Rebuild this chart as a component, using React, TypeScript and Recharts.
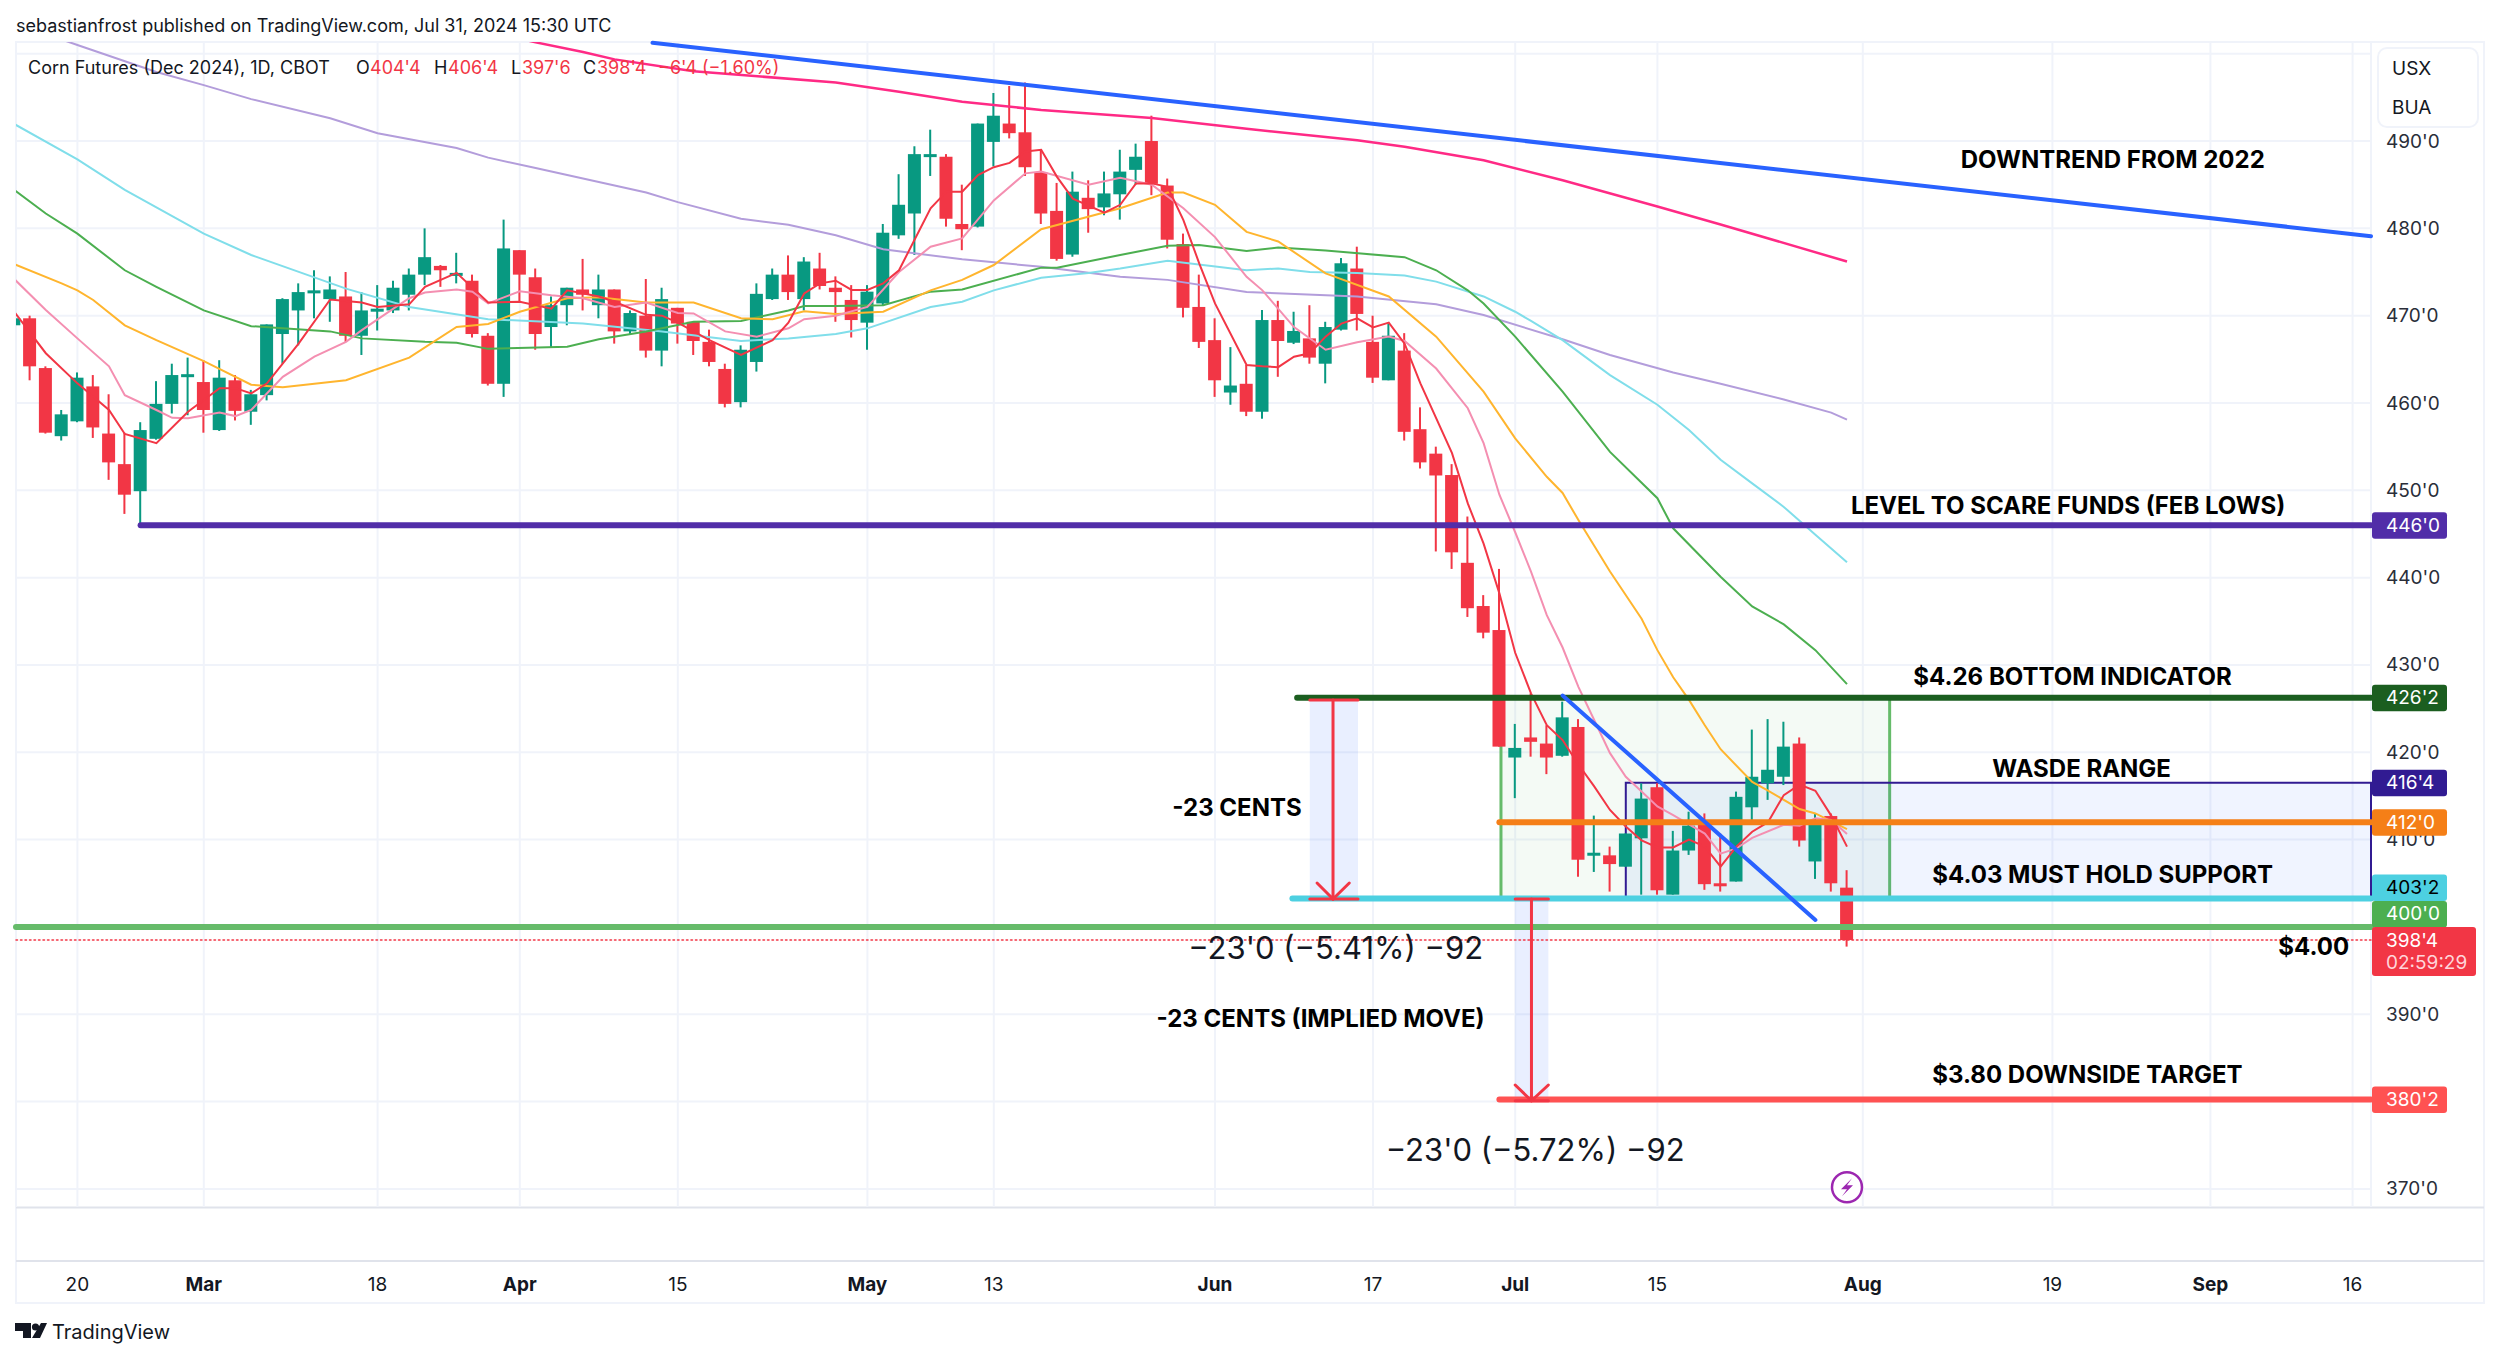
import { Bar, CartesianGrid, ComposedChart, Line, ReferenceArea, ReferenceDot, ReferenceLine, XAxis, YAxis } from "recharts";

const FONT = "Inter, sans-serif";
const UP = "#089981";
const DOWN = "#f23645";

// session index -1 is the half hidden bar at the left edge, 115 is Jul 31
const firstBar = -1;
const opens = [468.9,
  469.7, 464.0, 456.2, 457.9, 461.9, 456.5, 453.0, 449.9, 455.9, 459.9,
  463.1, 462.4, 456.9, 462.6, 459.0, 460.9, 467.9, 470.6, 472.7, 471.9,
  472.2, 467.7, 470.6, 470.6, 472.4, 474.7, 475.7, 474.7, 474.0, 467.7,
  462.2, 477.5, 474.4, 468.7, 471.2, 473.0, 471.2, 473.0, 468.2, 470.0,
  466.0, 470.9, 469.3, 467.0, 463.9, 460.1, 464.7, 471.9, 474.7, 471.9,
  475.4, 473.2, 471.8, 469.2, 471.4, 479.2, 481.7, 488.4, 488.2, 480.5,
  480.2, 489.9, 492.0, 491.0, 486.4, 482.0, 477.0, 483.5, 482.4, 483.9,
  486.7, 490.0, 484.9, 478.2, 471.0, 467.2, 461.2, 462.2, 459.0, 469.5,
  466.9, 467.4, 464.5, 468.4, 475.4, 467.0, 462.6, 466.0, 457.0, 454.2,
  451.75, 441.7, 436.75, 434.0, 419.4, 421.7, 421.0, 419.6, 422.9, 408.2,
  408.2, 406.9, 410.15, 416.0, 403.7, 408.75, 411.85, 405.0, 405.2, 413.7,
  416.45, 417.2, 421.0, 407.5, 412.7, 404.5];
const closes = [469.7,
  464.2, 456.6, 458.7, 462.9, 457.2, 453.2, 449.5, 456.9, 459.9, 463.2,
  463.3, 459.2, 462.9, 459.1, 461.0, 469.0, 471.9, 472.7, 472.9, 473.0,
  467.7, 470.6, 470.8, 473.2, 474.7, 476.7, 475.2, 474.9, 467.9, 462.2,
  477.7, 474.7, 467.9, 471.2, 473.2, 472.4, 473.0, 468.2, 470.3, 466.0,
  471.9, 469.1, 467.1, 464.7, 459.9, 466.1, 472.5, 474.7, 472.7, 476.2,
  473.4, 472.7, 469.5, 472.75, 479.5, 482.7, 488.5, 488.5, 481.1, 479.9,
  492.0, 492.9, 490.9, 487.0, 481.7, 476.5, 484.2, 482.2, 484.0, 486.5,
  488.2, 485.1, 478.7, 470.9, 467.0, 462.6, 462.0, 459.0, 469.5, 467.1,
  468.25, 465.2, 468.7, 476.0, 470.2, 462.9, 467.7, 456.7, 453.2, 451.7,
  442.9, 436.5, 433.7, 420.65, 420.5, 421.2, 419.4, 424.0, 407.7, 408.5,
  407.2, 410.7, 414.7, 404.2, 408.75, 411.6, 404.9, 404.7, 414.9, 417.2,
  418.0, 420.65, 409.9, 412.25, 405.0, 398.5];
const highs = [469.7,
  470.0, 464.2, 459.2, 463.5, 463.2, 461.0, 456.6, 457.8, 462.5, 464.5,
  465.2, 464.9, 464.9, 463.2, 461.5, 469.0, 472.0, 473.7, 475.2, 474.5,
  475.0, 472.7, 473.5, 474.0, 475.4, 480.0, 475.8, 477.2, 474.7, 468.0,
  481.0, 477.5, 475.4, 472.2, 473.2, 476.5, 474.7, 473.0, 470.6, 474.2,
  473.2, 470.9, 469.3, 468.4, 464.5, 466.6, 473.7, 475.4, 476.9, 476.7,
  477.2, 474.5, 473.5, 473.5, 480.5, 486.2, 489.4, 491.3, 488.5, 485.0,
  492.0, 495.5, 496.3, 496.7, 489.0, 485.2, 486.5, 485.5, 486.5, 489.0,
  489.7, 492.9, 485.7, 479.4, 474.7, 469.7, 466.4, 464.35, 470.65, 471.7,
  470.45, 471.2, 469.3, 476.6, 477.9, 470.0, 469.1, 468.0, 459.5, 455.0,
  453.0, 447.0, 438.0, 441.0, 423.25, 426.75, 423.1, 425.8, 423.8, 412.75,
  409.2, 410.7, 416.45, 416.45, 411.0, 413.2, 413.0, 410.7, 415.5, 422.6,
  423.8, 423.5, 421.7, 413.0, 413.0, 406.5];
const lows = [468.9,
  462.6, 456.5, 455.7, 457.8, 456.0, 451.2, 447.3, 446.0, 455.8, 458.8,
  458.6, 456.6, 456.8, 458.0, 457.5, 460.3, 464.5, 466.6, 469.7, 469.3,
  467.0, 465.5, 468.3, 470.3, 470.6, 473.5, 473.3, 473.7, 467.5, 462.0,
  460.7, 471.6, 466.1, 466.4, 468.9, 470.6, 469.7, 466.8, 467.8, 465.2,
  464.2, 466.8, 465.5, 464.2, 459.5, 459.5, 463.6, 471.8, 471.8, 470.6,
  473.0, 469.3, 467.5, 466.1, 471.2, 478.8, 476.95, 486.0, 480.2, 477.5,
  480.1, 487.1, 490.3, 486.0, 480.5, 476.3, 476.75, 479.5, 481.5, 481.0,
  485.0, 483.8, 477.7, 469.8, 466.3, 460.7, 459.8, 458.5, 458.2, 463.0,
  466.75, 464.5, 462.25, 468.3, 468.3, 462.3, 462.6, 455.7, 452.5, 443.0,
  441.0, 435.5, 433.05, 420.65, 414.75, 419.5, 417.5, 419.5, 405.75, 406.3,
  404.05, 406.9, 403.7, 403.7, 403.7, 408.25, 404.25, 404.05, 405.2, 412.25,
  414.55, 416.25, 409.2, 405.5, 404.05, 397.75];

// moving averages as [session, price]
const maRed = [[-1,470.45],[1,465.7],[3,462.25],[5,459.2],[6,456.45],[8,455.4],[10,459],[12,461.7],[13,461.7],[14,461.1],[15,462.25],[17,466.8],[19,471.85],[21,471.5],[22,471],[24,471.3],[25,473.3],[27,474.9],[29,471.5],[31,471.6],[33,470.8],[34,472.9],[36,472.2],[37,471.6],[39,470.1],[40,470],[41,469.2],[43,467.2],[45,465.5],[47,467.2],[48,469.2],[49,472.55],[50,473.7],[51,474],[52,472.95],[53,472.95],[54,473.7],[55,475.2],[57,482.3],[58,484.2],[59,484.2],[60,486.1],[61,487],[62,487.5],[63,488.8],[64,489],[65,485.9],[66,483.4],[68,481.8],[69,482.7],[70,485.15],[71,485.15],[72,484.75],[73,480.95],[74,476],[75,471.4],[77,464.35],[78,464.2],[79,464.1],[80,465.3],[81,465.7],[82,467.6],[83,469.1],[84,469.7],[85,468.65],[86,469.2],[87,466.8],[88,462.25],[90,454.25],[91,448.5],[92,443.9],[93,438.2],[94,431.4],[95,426.75],[96,423.1],[97,421.4],[98,418.6],[99,416.1],[100,413.4],[101,411.5],[102,409.9],[103,409.1],[104,409.1],[105,410],[106,409.2],[107,406.9],[108,409.2],[109,410.9],[110,412],[111,415.1],[112,416.3],[113,415.6],[114,412.75],[115,409.2]];
const maPink = [[-1,474.2],[1,470.65],[3,467.4],[5,464.2],[6,460.9],[8,459.2],[9,458.3],[10,458.25],[12,458.9],[13,458.5],[14,459.2],[16,463],[18,465.3],[20,467],[21,468.35],[23,470.8],[24,472],[25,472.65],[27,473],[28,472.75],[29,471.4],[31,472.8],[33,472.35],[35,472],[37,471],[39,471.5],[41,470.3],[42,470.25],[44,468.2],[46,467.6],[48,468.55],[49,469.6],[51,470],[53,471],[55,475],[57,477.9],[59,478.85],[61,483.2],[63,486.3],[64,486.5],[67,485],[69,485.8],[71,485],[73,482.3],[75,479],[77,474.45],[78,472.9],[80,468.7],[82,466.1],[84,466.95],[86,467.6],[87,467.1],[89,463.95],[91,459.4],[92,455.4],[93,449.5],[94,445.2],[95,440.7],[96,435.7],[97,432],[98,427.5],[99,423.7],[100,419.9],[101,417.2],[102,415.5],[103,413.8],[104,412.8],[106,410.7],[107,408.4],[108,409],[109,410.2],[111,411.7],[112,411.6],[113,412.45],[114,412.25],[115,410.65]];
const maOrange = [[-1,475.9],[2,473.7],[3,472.9],[4,471.8],[6,468.9],[8,467.2],[11,464.8],[14,462.1],[16,461.8],[20,462.6],[24,465.2],[27,468.7],[29,469.05],[31,470.45],[34,472],[36,472.1],[39,471.5],[42,471.5],[45,469.7],[47,469.6],[49,470.5],[51,470.2],[54,470.45],[57,472.9],[59,474.1],[61,475.8],[64,479.9],[69,482.3],[72,484.1],[73,484.1],[75,482.7],[77,479.6],[79,478.5],[82,474.85],[86,472.2],[89,467.6],[92,461.3],[94,455.95],[96,451.55],[97,449.7],[98,446.6],[100,440.7],[102,435.3],[103,431.7],[104,428.6],[105,426],[106,423.1],[107,420.35],[109,416.6],[110,415.6],[112,413.5],[113,413],[115,411.2]];
const maGreen = [[-1,484.4],[1,481.7],[3,479.4],[6,475.2],[8,473.3],[11,470.6],[14,468.8],[16,468.55],[19,468.2],[21,467.4],[25,467],[27,466.9],[29,466.2],[34,466.45],[36,467.3],[39,468.2],[42,469.3],[45,469.4],[48,470.6],[49,471.1],[51,471.1],[54,471.2],[57,472.75],[59,473],[64,475.5],[65,475.5],[69,476.95],[72,478],[74,478.1],[77,477.4],[79,477.8],[82,477.45],[87,476.7],[89,475.2],[91,472.9],[92,471.4],[94,467.6],[97,461.3],[100,454.4],[103,449.1],[104,445.65],[107,440.1],[109,436.7],[111,434.65],[113,431.7],[115,427.8]];
const maCyan = [[-1,491.95],[3,487.9],[6,484.4],[11,479.4],[14,476.95],[20,473.1],[24,471],[29,469.6],[35,469.1],[40,468.2],[45,467.1],[48,467.4],[51,467.9],[53,468.55],[57,471],[59,471.6],[61,472.9],[64,474.35],[67,474.9],[69,475.4],[72,476.3],[77,475.2],[79,475.4],[81,475],[84,474.9],[87,474.6],[89,473.9],[92,472.2],[94,470.45],[95,469.4],[97,467.2],[100,463.2],[103,459.8],[105,456.9],[107,453.5],[109,450.8],[111,448.1],[113,444.9],[115,441.75]];
const maPurple = [[-1,503.5],[3,501],[8,497.9],[11,496.4],[14,494.8],[19,492.6],[22,490.9],[27,489.2],[29,488.1],[32,486.9],[36,485.3],[39,484.1],[41,483],[45,481.1],[48,480.4],[51,479.2],[54,477.6],[59,476.45],[64,475.6],[69,474.45],[72,474.1],[77,472.7],[84,472.2],[89,471.3],[92,470.07],[97,467.3],[100,465.5],[104,463.5],[107,462.2],[111,460.4],[114,458.9],[115,458.1]];
const maMagenta = [[28,503],[32,501.3],[35,500.2],[37,499.35],[42,498],[51,496.7],[55,495.65],[59,494.5],[64,493.55],[71,492.65],[77,491.4],[84,490.1],[87,489.35],[92,487.8],[97,485.5],[103,482.5],[106,480.95],[107,480.45],[115,476.2]];

const xTicks = [3, 11, 22, 31, 41, 53, 61, 75, 85, 94, 103, 116, 128, 138, 147];
const xLabels = ["20", "Mar", "18", "Apr", "15", "May", "13", "Jun", "17", "Jul", "15", "Aug", "19", "Sep", "16"];
const monthLabels = ["Mar", "Apr", "May", "Jun", "Jul", "Aug", "Sep"];
const gridPrices = [370, 380, 390, 400, 410, 420, 430, 440, 450, 460, 470, 480, 490, 500];
const axisPrices = [370, 390, 410, 420, 430, 440, 450, 460, 470, 480, 490];
const tagPrices = [446, 426.25, 416.5, 412, 403.25, 400, 398.5, 380.25];
const tagTexts = ["446'0", "426'2", "416'4", "412'0", "403'2", "400'0", "398'4", "380'2"];
const tagColors = ["#512da8", "#1b5e20", "#311b92", "#f57f17", "#4dd0e1", "#4caf50", "#f23645", "#ff5252"];
const tagShift = [0, 0, 0, 0, -11, -13, 0, 0];

const xMin = -0.886;
const xMax = 148.165;

const rows = opens.map((open, n) => ({ i: n + firstBar, open, close: closes[n], high: highs[n], low: lows[n] }));
const maSeries: Record<string, number[][]> = { maRed, maPink, maOrange, maGreen, maCyan, maPurple, maMagenta };
for (const key of Object.keys(maSeries)) {
  for (const [i, v] of maSeries[key]) (rows[i - firstBar] as any)[key] = v;
}

function Candle(props: any) {
  const { x, y, width, height, payload } = props;
  const color = payload.close >= payload.open ? UP : DOWN;
  const perUnit = height / Math.max(payload.high - payload.low, 0.01);
  const top = y + (payload.high - Math.max(payload.open, payload.close)) * perUnit;
  const bodyH = Math.abs(payload.open - payload.close) * perUnit;
  return (
    <g>
      <rect x={x + width / 2 - 1} y={y} width={2} height={Math.max(height, 1)} fill={color} />
      <rect x={x} y={top} width={width} height={Math.max(bodyH, 3)} fill={color} />
    </g>
  );
}

function PriceTick(props: any) {
  const { y, payload } = props;
  const n = tagPrices.indexOf(payload.value);
  if (n < 0) {
    return (
      <text x={2386} y={y} dominantBaseline="central" fontFamily={FONT} fontSize={19} fill="#2a2e39">
        {payload.value}'0
      </text>
    );
  }
  const cy = y + tagShift[n];
  if (tagTexts[n] === "398'4") {
    return (
      <g>
        <rect x={2372} y={cy - 13} width={104} height={49} rx={3} fill={tagColors[n]} />
        <text x={2386} y={cy} dominantBaseline="central" fontFamily={FONT} fontSize={19} fill="#fff">{tagTexts[n]}</text>
        <text x={2386} y={cy + 22} dominantBaseline="central" fontFamily={FONT} fontSize={19} fill="#ffd5da">02:59:29</text>
      </g>
    );
  }
  return (
    <g>
      <rect x={2372} y={cy - 13} width={75} height={26.5} rx={3} fill={tagColors[n]} />
      <text x={2386} y={cy} dominantBaseline="central" fontFamily={FONT} fontSize={19} fill={tagTexts[n] === "403'2" ? "#000" : "#fff"}>
        {tagTexts[n]}
      </text>
    </g>
  );
}

function TimeTick(props: any) {
  const { x, y, payload } = props;
  const label = xLabels[xTicks.indexOf(payload.value)];
  return (
    <text
      x={x}
      y={y + 69}
      textAnchor="middle"
      dominantBaseline="central"
      fontFamily={FONT}
      fontSize={19}
      fontWeight={monthLabels.includes(label) ? 700 : 400}
      fill="#131722"
    >
      {label}
    </text>
  );
}

function note(x: number, y: number, text: string, bold = true) {
  return (
    <ReferenceDot
      key={text}
      x={x}
      y={y}
      ifOverflow="visible"
      shape={(p: any) => (
        <text
          x={p.cx}
          y={p.cy}
          dominantBaseline="central"
          fontFamily={FONT}
          fontSize={bold ? 24 : 31}
          fontWeight={bold ? 700 : 400}
          fill={bold ? "#000" : "#131722"}
        >
          {text}
        </text>
      )}
    />
  );
}

function seg(x1: number, y1: number, x2: number, y2: number, stroke: string, width: number, dash?: string) {
  return (
    <ReferenceLine
      key={`${x1}-${y1}-${x2}-${y2}-${stroke}`}
      segment={[{ x: x1, y: y1 }, { x: x2, y: y2 }]}
      stroke={stroke}
      strokeWidth={width}
      strokeDasharray={dash}
      strokeLinecap="round"
      ifOverflow="visible"
    />
  );
}

function Header() {
  return (
    <svg width={2500} height={1359} style={{ position: "absolute", left: 0, top: 0 }} fontFamily={FONT}>
      <text x={16} y={25} dominantBaseline="central" fontSize={18} fill="#131722">
        sebastianfrost published on TradingView.com, Jul 31, 2024 15:30 UTC
      </text>
      <rect x={16} y={42} width={2468} height={1261} fill="none" stroke="#f0f3fa" strokeWidth={2} />
      <line x1={16} x2={2484} y1={1207.5} y2={1207.5} stroke="#e0e3eb" strokeWidth={2} />
      <line x1={16} x2={2484} y1={1261} y2={1261} stroke="#e0e3eb" strokeWidth={2} />
      <path d="M15 1323H31V1338H23V1331H15Z" fill="#131722" />
      <circle cx={35.5} cy={1327} r={3.6} fill="#131722" />
      <path d="M41 1323H47L40 1338H32Z" fill="#131722" />
      <text x={52} y={1332} dominantBaseline="central" fontSize={20} fill="#131722">TradingView</text>
    </svg>
  );
}

function Legend() {
  const parts: [number, string, string][] = [
    [28, "Corn Futures (Dec 2024), 1D, CBOT", "#131722"],
    [356, "O", "#131722"], [370, "404'4", DOWN],
    [434, "H", "#131722"], [448, "406'4", DOWN],
    [511, "L", "#131722"], [522, "397'6", DOWN],
    [583, "C", "#131722"], [597, "398'4", DOWN],
    [658, "−6'4 (−1.60%)", DOWN],
  ];
  return (
    <svg width={2500} height={1359} style={{ position: "absolute", left: 0, top: 0, pointerEvents: "none" }} fontFamily={FONT}>
      {parts.map(([x, t, c]) => (
        <text key={t} x={x} y={67} dominantBaseline="central" fontSize={18} fill={c}>{t}</text>
      ))}
      <rect x={2378} y={48} width={100} height={79} rx={9} fill="#fff" stroke="#f0f3fa" strokeWidth={2} />
      <text x={2392} y={68} dominantBaseline="central" fontSize={19} fill="#131722">USX</text>
      <text x={2392} y={107} dominantBaseline="central" fontSize={19} fill="#131722">BUA</text>
    </svg>
  );
}

export default function App() {
  return (
    <div style={{ position: "absolute", left: 0, top: 0, width: 2500, height: 1359, background: "#fff", overflow: "hidden" }}>
      <Header />
      <div style={{ position: "absolute", left: 0, top: 0 }}>
        <ComposedChart width={2500} height={1359} data={rows} margin={{ top: 42, left: 16, right: 53, bottom: 92 }}>
          <CartesianGrid stroke="#f0f3fa" strokeWidth={2} horizontalValues={gridPrices} />
          <XAxis
            type="number"
            dataKey="i"
            domain={[xMin, xMax]}
            allowDataOverflow
            ticks={xTicks}
            interval={0}
            height={60}
            axisLine={false}
            tickLine={false}
            tick={<TimeTick />}
          />
          <YAxis
            type="number"
            orientation="right"
            domain={[367.93, 501.34]}
            allowDataOverflow
            ticks={[...axisPrices, ...tagPrices]}
            interval={0}
            width={76}
            axisLine={false}
            tickLine={false}
            tick={<PriceTick />}
          />
          <Bar dataKey={(d: any) => [d.low, d.high]} barSize={13} shape={<Candle />} isAnimationActive={false} />

          <Line dataKey="maPurple" stroke="#b39ddb" strokeWidth={2} dot={false} connectNulls isAnimationActive={false} />
          <Line dataKey="maCyan" stroke="#80deea" strokeWidth={2} dot={false} connectNulls isAnimationActive={false} />
          <Line dataKey="maGreen" stroke="#4caf50" strokeWidth={2} dot={false} connectNulls isAnimationActive={false} />
          <Line dataKey="maOrange" stroke="#ffb52e" strokeWidth={2} dot={false} connectNulls isAnimationActive={false} />
          <Line dataKey="maPink" stroke="#f48fb1" strokeWidth={2} dot={false} connectNulls isAnimationActive={false} />
          <Line dataKey="maRed" stroke="#f23645" strokeWidth={2} dot={false} connectNulls isAnimationActive={false} />
          <Line dataKey="maMagenta" stroke="#ff2a85" strokeWidth={2.5} dot={false} connectNulls isAnimationActive={false} />

          {seg(xMin, 398.5, xMax, 398.5, "#f23645", 1.5, "1.5 3")}
          <ReferenceArea x1={93.1} x2={117.7} y1={403.25} y2={426.25} fill="#4caf50" fillOpacity={0.06} stroke="#66bb6a" strokeWidth={3} ifOverflow="visible" />
          <ReferenceArea x1={101} x2={xMax} y1={403.25} y2={416.5} fill="#2962ff" fillOpacity={0.07} stroke="#311b92" strokeWidth={2} ifOverflow="visible" />
          <ReferenceArea x1={81} x2={84.05} y1={403.25} y2={426.25} fill="#2962ff" fillOpacity={0.1} ifOverflow="visible" />
          <ReferenceArea x1={94} x2={96.1} y1={380.25} y2={403.25} fill="#2962ff" fillOpacity={0.1} ifOverflow="visible" />

          {seg(7, 446, xMax, 446, "#512da8", 6)}
          {seg(80.2, 426.25, xMax, 426.25, "#1b5e20", 6)}
          {seg(93, 412, xMax, 412, "#f57f17", 6)}
          {seg(79.9, 403.25, xMax, 403.25, "#4dd0e1", 6)}
          {seg(xMin, 400, xMax, 400, "#66bb6a", 6)}
          {seg(93, 380.25, xMax, 380.25, "#ff5252", 6)}

          {seg(39.4, 501.25, xMax, 479.1, "#2962ff", 4)}
          {seg(97, 426.5, 113, 400.8, "#2962ff", 4)}

          {seg(81, 426, 84.05, 426, "#f23645", 3)}
          {seg(81, 403.2, 84.05, 403.2, "#f23645", 3)}
          {seg(82.47, 426, 82.47, 403.2, "#f23645", 3)}
          {seg(81.46, 405.03, 82.47, 403.2, "#f23645", 3)}
          {seg(83.5, 405.03, 82.47, 403.2, "#f23645", 3)}

          {seg(94, 403.2, 96.1, 403.2, "#f23645", 3)}
          {seg(94, 380.1, 96.1, 380.1, "#f23645", 3)}
          {seg(95.03, 403.2, 95.03, 380.1, "#f23645", 3)}
          {seg(94, 381.9, 95.03, 380.1, "#f23645", 3)}
          {seg(96.1, 381.9, 95.03, 380.1, "#f23645", 3)}

          {note(122.2, 487.9, "DOWNTREND FROM 2022")}
          {note(115.25, 448.3, "LEVEL TO SCARE FUNDS (FEB LOWS)")}
          {note(119.2, 428.7, "$4.26 BOTTOM INDICATOR")}
          {note(124.2, 418.2, "WASDE RANGE")}
          {note(120.4, 406, "$4.03 MUST HOLD SUPPORT")}
          {note(120.4, 383.05, "$3.80 DOWNSIDE TARGET")}
          {note(142.3, 397.8, "$4.00")}
          {note(72.3, 413.7, "-23 CENTS")}
          {note(71.3, 389.5, "-23 CENTS (IMPLIED MOVE)")}
          {note(73.3, 397.6, "−23'0 (−5.41%) −92", false)}
          {note(85.8, 374.5, "−23'0 (−5.72%) −92", false)}

          <ReferenceDot
            x={115}
            y={370.2}
            ifOverflow="visible"
            shape={(p: any) => (
              <g>
                <circle cx={p.cx} cy={p.cy} r={15} fill="#fff" stroke="#9c27b0" strokeWidth={2.5} />
                <path
                  d={`M${p.cx + 5} ${p.cy - 9}L${p.cx - 6} ${p.cy + 2}H${p.cx}L${p.cx - 5} ${p.cy + 9}L${p.cx + 6} ${p.cy - 2}H${p.cx}Z`}
                  fill="#9c27b0"
                />
              </g>
            )}
          />
        </ComposedChart>
      </div>
      <Legend />
    </div>
  );
}
